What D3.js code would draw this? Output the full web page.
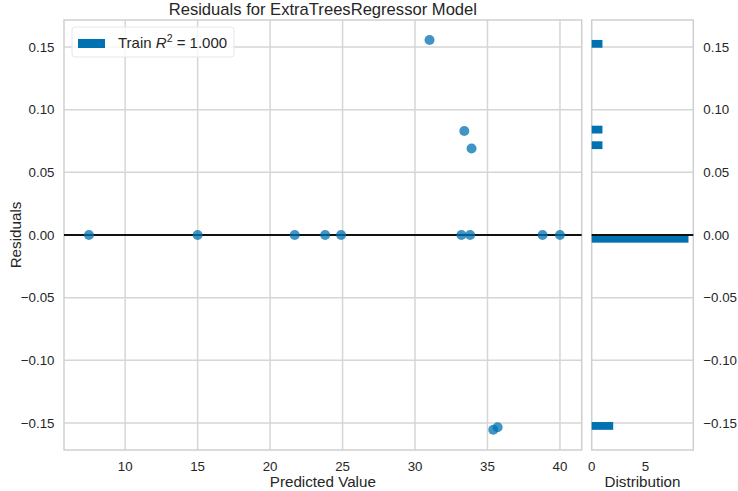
<!DOCTYPE html>
<html>
<head>
<meta charset="utf-8">
<script src="https://cdnjs.cloudflare.com/ajax/libs/d3/7.8.5/d3.min.js"></script>
<style>
  body { margin: 0; background: #fff; }
  text { font-family: "Liberation Sans", Arial, sans-serif; fill: #262626; }
</style>
</head>
<body>
<script>
// residuals plot data
var predicted = [7.5, 15.0, 21.7, 23.8, 24.9, 31.0, 33.4, 33.9, 33.2, 33.8, 38.8, 40.0, 35.4, 35.7];
var residuals = [0, 0, 0, 0, 0, 0.1556, 0.083, 0.069, 0, 0, 0, 0, -0.1554, -0.1533];
var xTicks = [10, 15, 20, 25, 30, 35, 40];
var yTicks = [-0.15, -0.10, -0.05, 0.00, 0.05, 0.10, 0.15];
var histTicks = [0, 5];
var title = "Residuals for ExtraTreesRegressor Model";
var nBins = 50;

var w = 738, h = 491;
var main = {left: 64, right: 581.7, top: 20, bottom: 450},
    hist = {left: 591.7, right: 693.3};

var blue = "#0072B2",
    gridColor = "#d6d6d6";

var svg = d3.select("body").append("svg")
  .attr("width", w)
  .attr("height", h);

var x = d3.scaleLinear().domain([5.78, 41.5]).range([main.left, main.right]);
var y = d3.scaleLinear().domain([-0.1715, 0.1715]).range([main.bottom, main.top]);

// histogram bins across the residual range, like matplotlib's hist(bins=50)
var ext = d3.extent(residuals);
var thresholds = d3.range(1, nBins).map(function(i){ return ext[0] + i * (ext[1] - ext[0]) / nBins; });
var bins = d3.bin().domain(ext).thresholds(thresholds)(residuals);
var hx = d3.scaleLinear().domain([0, d3.max(bins, function(b){ return b.length; }) * 1.05]).range([hist.left, hist.right]);

// grid
var grid = svg.append("g").attr("stroke", gridColor).attr("stroke-width", 1.5);
grid.selectAll(".vx").data(xTicks).enter().append("line")
  .attr("x1", function(d){ return x(d); }).attr("x2", function(d){ return x(d); })
  .attr("y1", main.top).attr("y2", main.bottom);
grid.selectAll(".hy").data(yTicks).enter().append("line")
  .attr("x1", main.left).attr("x2", main.right)
  .attr("y1", function(d){ return y(d); }).attr("y2", function(d){ return y(d); });
grid.selectAll(".hh").data(yTicks).enter().append("line")
  .attr("x1", hist.left).attr("x2", hist.right)
  .attr("y1", function(d){ return y(d); }).attr("y2", function(d){ return y(d); });

// frames
svg.append("rect").attr("x", main.left).attr("y", main.top)
  .attr("width", main.right - main.left).attr("height", main.bottom - main.top)
  .attr("fill", "none").attr("stroke", "#cfcfcf").attr("stroke-width", 1.5);
svg.append("rect").attr("x", hist.left).attr("y", main.top)
  .attr("width", hist.right - hist.left).attr("height", main.bottom - main.top)
  .attr("fill", "none").attr("stroke", "#cfcfcf").attr("stroke-width", 1.5);

// histogram bars
svg.append("g").selectAll("rect").data(bins.filter(function(b){ return b.length > 0; })).enter().append("rect")
  .attr("x", hx(0))
  .attr("y", function(b){ return y(b.x1); })
  .attr("width", function(b){ return hx(b.length) - hx(0); })
  .attr("height", function(b){ return y(b.x0) - y(b.x1); })
  .attr("fill", blue);

// zero lines
svg.append("line").attr("x1", main.left).attr("x2", main.right)
  .attr("y1", y(0)).attr("y2", y(0)).attr("stroke", "#111").attr("stroke-width", 2);
svg.append("line").attr("x1", hist.left).attr("x2", hist.right)
  .attr("y1", y(0)).attr("y2", y(0)).attr("stroke", "#111").attr("stroke-width", 2);

// points
svg.append("g").selectAll("circle").data(predicted).enter().append("circle")
  .attr("cx", function(d){ return x(d); })
  .attr("cy", function(d, i){ return y(residuals[i]); })
  .attr("r", 5)
  .attr("fill", blue)
  .attr("fill-opacity", 0.75);

// tick labels
var fmt = function(d){ return d3.format(".2f")(d).replace("-", "\u2212"); };
svg.append("g").selectAll("text").data(xTicks).enter().append("text")
  .attr("x", function(d){ return x(d); }).attr("y", 471)
  .attr("text-anchor", "middle").attr("font-size", 13.3)
  .text(function(d){ return d; });
svg.append("g").selectAll("text").data(yTicks).enter().append("text")
  .attr("x", 54.5).attr("y", function(d){ return y(d) + 4.8; })
  .attr("text-anchor", "end").attr("font-size", 13.3)
  .text(fmt);
svg.append("g").selectAll("text").data(yTicks).enter().append("text")
  .attr("x", 703.3).attr("y", function(d){ return y(d) + 4.8; })
  .attr("text-anchor", "start").attr("font-size", 13.3)
  .text(fmt);
svg.append("g").selectAll("text").data(histTicks).enter().append("text")
  .attr("x", function(d){ return hx(d); }).attr("y", 471)
  .attr("text-anchor", "middle").attr("font-size", 13.3)
  .text(function(d){ return d; });

// labels and title
svg.append("text").attr("x", (main.left + main.right) / 2).attr("y", 14.5)
  .attr("text-anchor", "middle").attr("font-size", 16.6).text(title);
svg.append("text").attr("x", (main.left + main.right) / 2).attr("y", 487)
  .attr("text-anchor", "middle").attr("font-size", 15.2).text("Predicted Value");
svg.append("text").attr("x", (hist.left + hist.right) / 2).attr("y", 487)
  .attr("text-anchor", "middle").attr("font-size", 15.2).text("Distribution");
svg.append("text").attr("transform", "translate(20.5," + ((main.top + main.bottom) / 2) + ") rotate(-90)")
  .attr("text-anchor", "middle").attr("font-size", 15.2).text("Residuals");

// legend
var lg = svg.append("g");
lg.append("rect").attr("x", 72).attr("y", 27).attr("width", 162).attr("height", 30)
  .attr("rx", 3).attr("fill", "#fff").attr("fill-opacity", 0.8)
  .attr("stroke", "#e6e6e6").attr("stroke-width", 1);
lg.append("rect").attr("x", 78).attr("y", 39).attr("width", 27).attr("height", 9).attr("fill", blue);
var lt = lg.append("text").attr("x", 118).attr("y", 47.5).attr("font-size", 15);
lt.append("tspan").text("Train ");
lt.append("tspan").attr("font-style", "italic").text("R");
lt.append("tspan").attr("font-size", 10.5).attr("dy", -6).text("2");
lt.append("tspan").attr("dy", 6).text(" = 1.000");
</script>
</body>
</html>
